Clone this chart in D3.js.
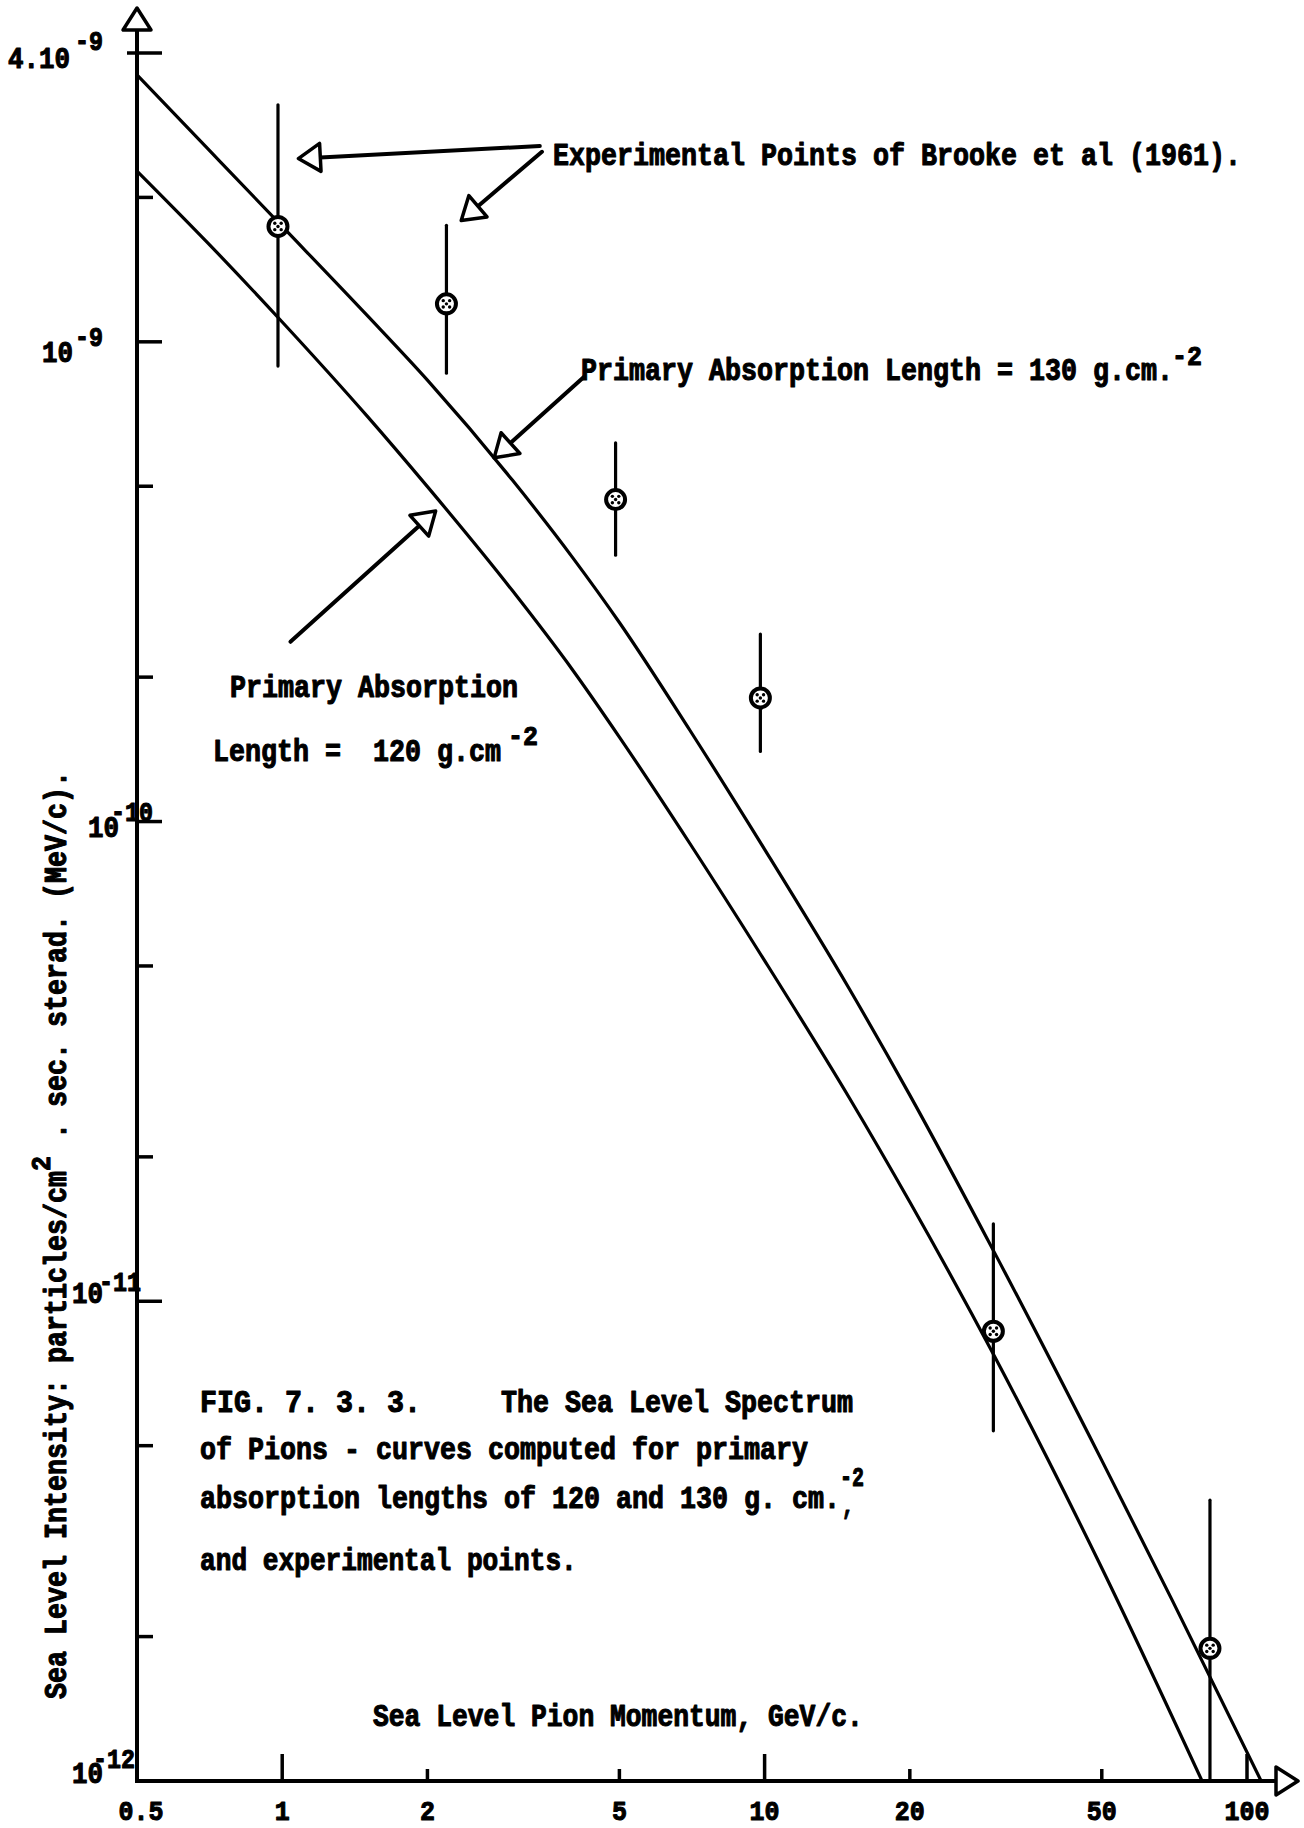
<!DOCTYPE html>
<html>
<head>
<meta charset="utf-8">
<script src="https://cdn.jsdelivr.net/npm/d3@7"></script>
<style>
  html, body { margin: 0; padding: 0; background: #fff; }
  svg { display: block; }
  text { white-space: pre; }
</style>
</head>
<body>
<svg id="chart" width="1304" height="1828"></svg>
<script>
// ---------------- DATA ----------------
// Experimental points of Brooke et al (1961)
const pointMomentum   = [0.98, 2.19, 4.91, 9.8, 29.8, 83.8];          // GeV/c
const pointIntensity  = [1.74e-9, 1.20e-9, 4.69e-10, 1.81e-10, 8.66e-12, 1.89e-12];
const pointErrHigh    = [3.12e-9, 1.75e-9, 6.16e-10, 2.46e-10, 1.45e-11, 3.85e-12];
const pointErrLow     = [8.9e-10, 8.6e-10, 3.59e-10, 1.40e-10, 5.37e-12, 1.0e-12];

// Curve: primary absorption length = 130 g cm^-2
const curve130Momentum  = [0.5, 0.7, 1, 1.5, 2, 3, 4, 5, 7, 10, 15, 20, 30, 50, 70, 107];
const curve130Intensity = [3.60e-9, 2.53e-9, 1.74e-9, 1.135e-9, 8.32e-10, 5.15e-10, 3.55e-10, 2.60e-10,
                           1.55e-10, 8.75e-11, 4.47e-11, 2.69e-11, 1.26e-11, 4.66e-12, 2.38e-12, 1.0e-12];

// Curve: primary absorption length = 120 g cm^-2
const curve120Momentum  = [0.5, 0.7, 1, 1.5, 2, 3, 4, 5, 7, 10, 15, 20, 30, 50, 80.7];
const curve120Intensity = [2.27e-9, 1.61e-9, 1.10e-9, 7.0e-10, 4.99e-10, 3.03e-10, 2.07e-10, 1.50e-10,
                           9.0e-11, 5.13e-11, 2.65e-11, 1.61e-11, 7.66e-12, 2.78e-12, 1.0e-12];

// Axis ticks
const xTickValues = [0.5, 1, 2, 5, 10, 20, 50, 100];
const xTickLabels = ["0.5", "1", "2", "5", "10", "20", "50", "100"];
const xMajorTicks = [1, 10, 100];
const xMinorTicks = [2, 5, 20, 50];
const yMajorTicks = [4e-9, 1e-9, 1e-10, 1e-11];
const yMinorTicks = [2e-9, 5e-10, 2e-10, 5e-11, 2e-11, 5e-12, 2e-12];
const yTickLabelMain = ["4.10", "10", "10", "10", "10"];
const yTickLabelExp  = ["-9", "-9", "-10", "-11", "-12"];
const yTickLabelValues = [4e-9, 1e-9, 1e-10, 1e-11, 1e-12];

// Annotation arrows (tail -> tip) in data units
const arrowTailX = [3.42, 3.455, 4.22, 1.04];
const arrowTailY = [2.56e-9, 2.49e-9, 8.45e-10, 2.37e-10];
const arrowTipX  = [1.08, 2.35, 2.75, 2.08];
const arrowTipY  = [2.41e-9, 1.79e-9, 5.73e-10, 4.44e-10];

// ---------------- SCALES ----------------
const svg = d3.select("#chart");
svg.append("rect").attr("width", 1304).attr("height", 1828).attr("fill", "#fff");

const x = d3.scaleLog().domain([0.5, 100]).range([137, 1247]);
const y = d3.scaleLog().domain([1e-12, 4e-9]).range([1781, 53]);

const FONT = '"Liberation Mono", "DejaVu Sans Mono", monospace';

function tw(g, px, py, str, opts = {}) {
  const size = opts.size || 31;
  const pitch = opts.pitch || 16;
  const t = g.append("text")
    .attr("x", px).attr("y", py)
    .attr("font-family", FONT)
    .attr("font-weight", "bold")
    .attr("font-size", size)
    .attr("fill", "#000")
    .attr("stroke", "#000")
    .attr("stroke-width", opts.sw == null ? 1.1 : opts.sw)
    .attr("stroke-linejoin", "round")
    .attr("textLength", opts.len || str.length * pitch)
    .attr("lengthAdjust", "spacingAndGlyphs")
    .text(str);
  if (opts.anchor) t.attr("text-anchor", opts.anchor);
  return t;
}

// ---------------- AXES ----------------
const axisG = svg.append("g").attr("stroke", "#000").attr("fill", "none");
const x0 = x(0.5), yBase = y(1e-12);
axisG.append("line").attr("x1", x0).attr("x2", x0).attr("y1", 30).attr("y2", yBase + 2).attr("stroke-width", 4);
axisG.append("line").attr("x1", x0 - 2).attr("x2", 1276).attr("y1", yBase).attr("y2", yBase).attr("stroke-width", 4);
axisG.append("path").attr("d", `M${x0},8 L${x0 - 14},30 L${x0 + 14},30 Z`).attr("stroke-width", 3.5).attr("fill", "#fff").attr("stroke-linejoin", "round");
axisG.append("path").attr("d", `M1298,${yBase} L1276,${yBase - 14} L1276,${yBase + 14} Z`).attr("stroke-width", 3.5).attr("fill", "#fff").attr("stroke-linejoin", "round");

axisG.selectAll(".ymaj").data(yMajorTicks).join("line")
  .attr("x1", d => d === 4e-9 ? x0 - 10 : x0).attr("x2", x0 + 25)
  .attr("y1", d => y(d)).attr("y2", d => y(d)).attr("stroke-width", 3.5);
axisG.selectAll(".ymin").data(yMinorTicks).join("line")
  .attr("x1", x0).attr("x2", x0 + 16)
  .attr("y1", d => y(d)).attr("y2", d => y(d)).attr("stroke-width", 3.5);
axisG.selectAll(".xmaj").data(xMajorTicks).join("line")
  .attr("x1", d => x(d)).attr("x2", d => x(d))
  .attr("y1", yBase).attr("y2", yBase - 27).attr("stroke-width", 3.5);
axisG.selectAll(".xmin").data(xMinorTicks).join("line")
  .attr("x1", d => x(d)).attr("x2", d => x(d))
  .attr("y1", yBase).attr("y2", yBase - 12).attr("stroke-width", 3.5);

const labG = svg.append("g");
xTickValues.forEach((v, i) => {
  tw(labG, x(v) + (i === 0 ? 4 : 0), 1820, xTickLabels[i], { size: 28, pitch: 15, anchor: "middle" });
});

const yLabMainX = [8, 42, 88, 72, 72];
const yLabMainDy = [15, 20, 15, 2, 2];
const yLabExpX = [75, 75, 111, 99, 93];
const yLabExpDy = [-3, 4, -1, -10, -13];
yTickLabelValues.forEach((v, i) => {
  const yy = y(v);
  tw(labG, yLabMainX[i], yy + yLabMainDy[i], yTickLabelMain[i], { size: 29, pitch: 15.5 });
  tw(labG, yLabExpX[i], yy + yLabExpDy[i], yTickLabelExp[i], { size: 27, pitch: 14 });
});

// ---------------- CURVES ----------------
const line = d3.line().x(d => x(d[0])).y(d => y(d[1])).curve(d3.curveMonotoneX);
const c130 = curve130Momentum.map((m, i) => [m, curve130Intensity[i]]);
const c120 = curve120Momentum.map((m, i) => [m, curve120Intensity[i]]);
svg.append("path").attr("d", line(c130)).attr("fill", "none").attr("stroke", "#000").attr("stroke-width", 3.2);
svg.append("path").attr("d", line(c120)).attr("fill", "none").attr("stroke", "#000").attr("stroke-width", 3.2);

// ---------------- POINTS ----------------
const pts = pointMomentum.map((m, i) => ({ m, v: pointIntensity[i], hi: pointErrHigh[i], lo: pointErrLow[i] }));
const pg = svg.append("g");
pg.selectAll(".err").data(pts).join("line")
  .attr("x1", d => x(d.m)).attr("x2", d => x(d.m))
  .attr("y1", d => y(d.hi)).attr("y2", d => y(d.lo))
  .attr("stroke", "#000").attr("stroke-width", 3.2).attr("stroke-linecap", "round");
pg.selectAll(".mk").data(pts).join("circle")
  .attr("cx", d => x(d.m)).attr("cy", d => y(d.v)).attr("r", 9.5)
  .attr("fill", "#fff").attr("stroke", "#000").attr("stroke-width", 4);
const dotOff = [[0, 0], [-3.2, -3.2], [3.2, -3.2], [-3.2, 3.2], [3.2, 3.2]];
pts.forEach(d => {
  dotOff.forEach(o => {
    pg.append("circle").attr("cx", x(d.m) + o[0]).attr("cy", y(d.v) + o[1]).attr("r", 1.7).attr("fill", "#000");
  });
});

// ---------------- ANNOTATION ARROWS ----------------
const ag = svg.append("g");
arrowTipX.forEach((tx, i) => {
  const x1 = x(arrowTailX[i]), y1 = y(arrowTailY[i]);
  const x2 = x(tx), y2 = y(arrowTipY[i]);
  const dx = x2 - x1, dy = y2 - y1, L = Math.hypot(dx, dy);
  const ux = dx / L, uy = dy / L;
  const len = 22, hw = 14;
  const bx = x2 - ux * len, by = y2 - uy * len;
  ag.append("line").attr("x1", x1).attr("y1", y1).attr("x2", bx).attr("y2", by)
    .attr("stroke", "#000").attr("stroke-width", 4).attr("stroke-linecap", "round");
  ag.append("path")
    .attr("d", `M${x2},${y2} L${bx - uy * hw},${by + ux * hw} L${bx + uy * hw},${by - ux * hw} Z`)
    .attr("fill", "#fff").attr("stroke", "#000").attr("stroke-width", 3.5).attr("stroke-linejoin", "round");
});

// ---------------- TEXT ----------------
const tg = svg.append("g");
tw(tg, 553, 165, "Experimental Points of Brooke et al (1961).");
tw(tg, 581, 380, "Primary Absorption Length = 130 g.cm.");
tw(tg, 1172, 365, "-2", { size: 28, pitch: 15 });
tw(tg, 230, 697, "Primary Absorption");
tw(tg, 213, 761, "Length =  120 g.cm");
tw(tg, 508, 745, "-2", { size: 28, pitch: 15 });

// caption
tw(tg, 200, 1412, "FIG. 7. 3. 3.", { pitch: 17 });
tw(tg, 501, 1412, "The Sea Level Spectrum");
tw(tg, 200, 1459, "of Pions - curves computed for primary");
tw(tg, 200, 1508, "absorption lengths of 120 and 130 g. cm.");
tw(tg, 840, 1486, "-2", { size: 28, pitch: 12 });
tw(tg, 842, 1514, ",", { size: 28, pitch: 12 });
tw(tg, 200, 1570, "and experimental points.", { pitch: 15.7 });

// x axis title
tw(tg, 373, 1726, "Sea Level Pion Momentum, GeV/c.", { pitch: 15.8 });

// y axis title (rotated)
const yt = svg.append("g").attr("transform", "translate(56,1699) rotate(-90)");
tw(yt, 0, 10, "Sea Level Intensity: particles/cm");
tw(yt, 33 * 16, -6, "2", { size: 28, pitch: 15 });
tw(yt, 34 * 16, 10, " . sec. sterad. (MeV/c).");
</script>
</body>
</html>
